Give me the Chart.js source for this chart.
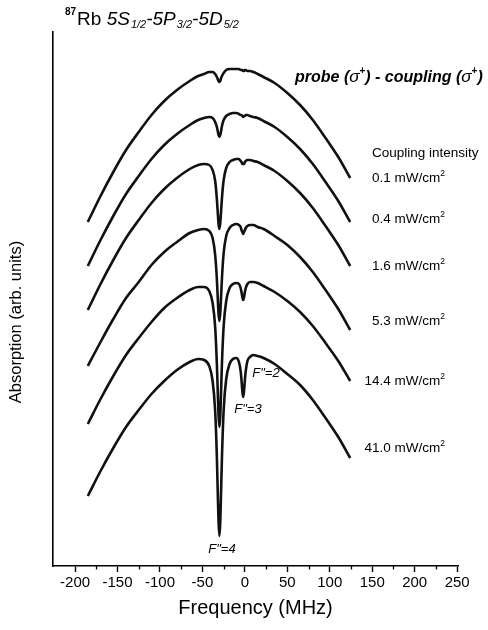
<!DOCTYPE html>
<html>
<head>
<meta charset="utf-8">
<title>87Rb ladder EIA spectra</title>
<script src="https://cdn.jsdelivr.net/npm/chart.js@4.4.1/dist/chart.umd.min.js"></script>
<style>
  html, body { margin: 0; padding: 0; background: #fff; }
  #wrap { width: 488px; height: 630px; }
</style>
</head>
<body>
<div id="wrap"><canvas id="chart" width="488" height="630"></canvas></div>
<script>
// ==================== DATA ====================

// probe detuning (MHz)
const freq = [-185, -170, -155, -140, -125, -110, -95, -80, -65, -55, -48, -42, -38, -35, -33,
    -32, -31, -30, -29, -28, -27, -25, -22, -18, -14, -10, -7, -5, -4, -3,
    -2, -1, 0, 1, 3, 6, 10, 15, 22, 35, 50, 65, 80, 95, 110, 124];

// absorption traces (arb. units, offset per trace)
const abs01 = [344, 370, 394, 416, 434, 451, 465, 476, 485, 490, 492, 494, 494, 492, 489,
    487, 485, 484, 485, 488, 490, 493, 496, 497, 497, 497, 497, 496, 496, 496,
    495, 495, 496, 496, 495, 495, 494, 492, 489, 483, 473, 461, 446, 428, 409, 388];
const abs04 = [300, 326, 350, 372, 390, 407, 421, 432, 441, 446, 448, 449, 448, 444, 439,
    435, 431, 429, 431, 435, 440, 446, 450, 452, 453, 453, 452, 451, 451, 450,
    449, 450, 450, 451, 451, 450, 449, 448, 445, 439, 429, 417, 402, 384, 365, 344];
const abs16 = [256, 282, 306, 328, 346, 363, 377, 388, 397, 401, 402, 401, 396, 385, 367,
    354, 342, 337, 343, 355, 368, 386, 398, 404, 406, 407, 407, 405, 404, 402,
    402, 402, 404, 405, 406, 406, 405, 404, 401, 395, 385, 373, 358, 340, 321, 300];
const abs53 = [200, 224, 247, 268, 284, 301, 314, 324, 333, 336, 337, 335, 328, 311, 287,
    269, 252, 245, 253, 270, 288, 313, 330, 338, 341, 342, 341, 339, 336, 334,
    332, 334, 336, 338, 340, 341, 341, 339, 337, 330, 321, 309, 294, 276, 257, 236];
const abs144 = [142, 167, 190, 211, 228, 244, 258, 268, 276, 279, 279, 275, 263, 239, 202,
    176, 150, 139, 150, 176, 203, 240, 265, 278, 282, 283, 282, 278, 274, 269,
    266, 269, 274, 278, 282, 284, 284, 283, 280, 274, 265, 254, 240, 223, 205, 185];
const abs410 = [70, 95, 118, 139, 156, 172, 185, 196, 204, 207, 206, 200, 185, 155, 109,
    75, 44, 30, 44, 76, 109, 156, 187, 202, 207, 208, 204, 195, 186, 175,
    169, 175, 186, 195, 205, 209, 211, 210, 208, 202, 192, 181, 166, 148, 129, 108];

const intensities = ['0.1', '0.4', '1.6', '5.3', '14.4', '41.0'];
const traces = [abs01, abs04, abs16, abs53, abs144, abs410];

// axis ticks
const xTicks = [-200, -150, -100, -50, 0, 50, 100, 150, 200, 250];
const xMinorTicks = [-175, -125, -75, -25, 25, 75, 125, 175, 225];

// ==================== LAYOUT / STYLE ====================

const FONT = '"Liberation Sans", Arial, Helvetica, sans-serif';
const intensityLabelY = [177, 218, 265, 320, 380, 447];

// draw a run of text pieces (font, vertical shift) starting at x on a baseline
function drawRuns(ctx, x, y, runs) {
    runs.forEach(r => {
        ctx.font = r.font;
        ctx.fillText(r.t, x, y + (r.dy || 0));
        x += ctx.measureText(r.t).width + (r.gap || 0);
    });
    return x;
}

function runsWidth(ctx, runs) {
    let w = 0;
    runs.forEach(r => {
        ctx.font = r.font;
        w += ctx.measureText(r.t).width + (r.gap || 0);
    });
    return w;
}

// minor ticks on the frequency axis
const minorTicks = {
    id: 'minorTicks',
    afterDraw(chart) {
        const ctx = chart.ctx;
        const xs = chart.scales.x;
        const y0 = chart.chartArea.bottom;
        ctx.save();
        ctx.strokeStyle = '#000';
        ctx.lineWidth = 1.3;
        xMinorTicks.forEach(v => {
            const px = Math.round(xs.getPixelForValue(v)) + 0.5;
            ctx.beginPath();
            ctx.moveTo(px, y0);
            ctx.lineTo(px, y0 + 3.5);
            ctx.stroke();
        });
        ctx.restore();
    }
};

// figure texts
const figureText = {
    id: 'figureText',
    afterDraw(chart) {
        const ctx = chart.ctx;
        ctx.save();
        ctx.fillStyle = '#000';
        ctx.textBaseline = 'alphabetic';
        ctx.textAlign = 'left';

        // title
        drawRuns(ctx, 65, 25, [
            { t: '87', font: 'bold 10px ' + FONT, dy: -10, gap: 1 },
            { t: 'Rb ', font: '19px ' + FONT },
            { t: '5S', font: 'italic 19px ' + FONT, gap: 1 },
            { t: '1/2', font: 'italic 11px ' + FONT, dy: 3 },
            { t: '-5P', font: 'italic 19px ' + FONT, gap: 1 },
            { t: '3/2', font: 'italic 11px ' + FONT, dy: 3 },
            { t: '-5D', font: 'italic 19px ' + FONT, gap: 1 },
            { t: '5/2', font: 'italic 11px ' + FONT, dy: 3 }
        ]);

        // polarisation configuration
        const bi = 'italic bold 16px ' + FONT;
        drawRuns(ctx, 295, 82, [
            { t: 'probe (', font: bi },
            { t: 'σ', font: 'italic 17px ' + FONT },
            { t: '+', font: 'bold 10px ' + FONT, dy: -8 },
            { t: ') - coupling (', font: bi },
            { t: 'σ', font: 'italic 17px ' + FONT },
            { t: '+', font: 'bold 10px ' + FONT, dy: -8 },
            { t: ')', font: bi }
        ]);

        // coupling intensity labels
        ctx.font = '13.5px ' + FONT;
        ctx.fillText('Coupling intensity', 372, 157);
        intensities.forEach((s, i) => {
            const runs = [
                { t: s + ' mW/cm', font: '13.5px ' + FONT },
                { t: '2', font: '8.5px ' + FONT, dy: -6 }
            ];
            const w = runsWidth(ctx, runs);
            drawRuns(ctx, 445 - w, intensityLabelY[i] + 5, runs);
        });

        // hyperfine labels
        ctx.font = 'italic 13px ' + FONT;
        ctx.textAlign = 'center';
        ctx.textBaseline = 'middle';
        ctx.fillText('F"=4', 222, 549);
        ctx.fillText('F"=3', 248, 409);
        ctx.fillText('F"=2', 266, 373);

        // y axis title
        ctx.translate(16, 322);
        ctx.rotate(-Math.PI / 2);
        ctx.font = '16.5px ' + FONT;
        ctx.fillText('Absorption (arb. units)', 0, 0);
        ctx.restore();
    }
};

// ==================== CHART ====================

const datasets = traces.map((vals, i) => ({
    label: intensities[i] + ' mW/cm2',
    data: freq.map((f, j) => ({ x: f, y: vals[j] })),
    borderColor: '#111',
    borderWidth: 2.6,
    pointRadius: 0,
    fill: false,
    cubicInterpolationMode: 'monotone'
}));

new Chart(document.getElementById('chart').getContext('2d'), {
    type: 'line',
    data: { datasets },
    options: {
        responsive: false,
        animation: false,
        layout: { padding: { left: 0, right: 30, top: 32, bottom: 0 } },
        plugins: {
            legend: { display: false },
            tooltip: { enabled: false }
        },
        scales: {
            x: {
                type: 'linear',
                min: -226,
                max: 251,
                afterFit(scale) { scale.height = 64; },
                afterBuildTicks(scale) { scale.ticks = xTicks.map(v => ({ value: v })); },
                grid: {
                    display: true,
                    drawOnChartArea: false,
                    drawTicks: true,
                    tickLength: 6,
                    tickWidth: 1.4,
                    tickColor: '#000'
                },
                border: { display: true, color: '#000', width: 1.6 },
                ticks: {
                    color: '#000',
                    font: { family: FONT, size: 15 },
                    padding: 2,
                    maxRotation: 0,
                    autoSkip: false
                },
                title: {
                    display: true,
                    text: 'Frequency (MHz)',
                    color: '#000',
                    font: { family: FONT, size: 20 },
                    padding: { top: 0, bottom: 10 }
                }
            },
            y: {
                type: 'linear',
                min: 0,
                max: 534,
                afterFit(scale) { scale.width = 53; },
                grid: { display: false },
                border: { display: true, color: '#000', width: 1.6 },
                ticks: { display: false }
            }
        }
    },
    plugins: [minorTicks, figureText]
});
</script>
</body>
</html>
